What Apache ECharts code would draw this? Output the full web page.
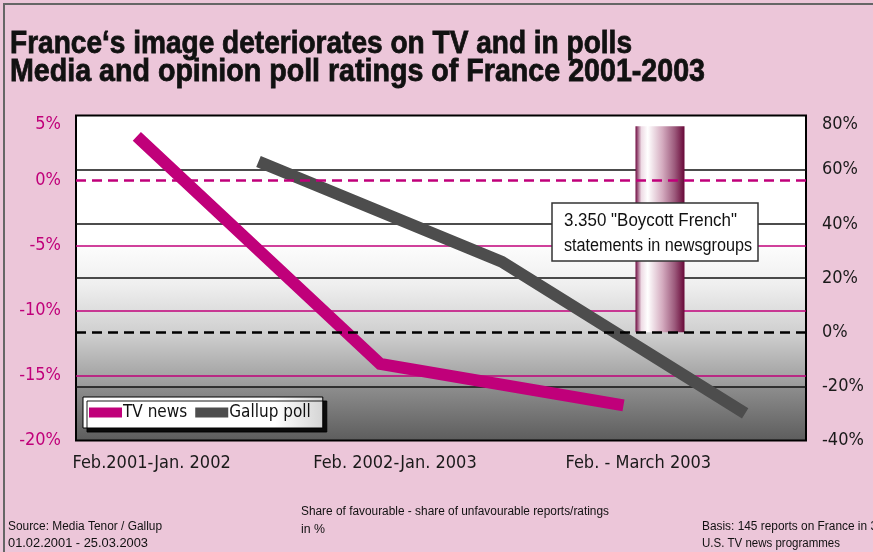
<!DOCTYPE html>
<html>
<head>
<meta charset="utf-8">
<script src="https://cdn.jsdelivr.net/npm/echarts@6/dist/echarts.min.js"></script>
<style>
  html, body { margin: 0; padding: 0; background: #ecc6d9; }
  #chart { width: 873px; height: 552px; }
</style>
</head>
<body>
<div id="chart"></div>
<script>
const periods = ['Feb.2001-Jan. 2002', 'Feb. 2002-Jan. 2003', 'Feb. - March 2003'];
const tvNews = [3.4, -14.1, -17.3];      // left axis, %
const gallupPoll = [63, 26, -30];        // right axis, %
const boycott = [76];                    // decorative column, right axis
const leftTicks = [-20, -15, -10, -5, 0, 5];
const rightTicks = [-40, -20, 0, 20, 40, 60, 80];

const font = "'Liberation Sans Narrow', 'DejaVu Sans Condensed', sans-serif";
const magenta = '#c0007a';
const darkGray = '#4d4d4d';

// the original uses a condensed face, so squeeze Liberation Sans to the widths seen
const measureCtx = document.createElement('canvas').getContext('2d');
function squeezed(text, cssFont, x, y, width, z, stroke) {
    measureCtx.font = cssFont;
    const w = measureCtx.measureText(text).width;
    const style = { text: text, font: cssFont, fill: '#111', align: 'left', verticalAlign: 'middle' };
    if (stroke) {
        style.stroke = '#111';
        style.lineWidth = stroke;
    }
    return {
        type: 'text', x: x, y: y, z: z || 10,
        scaleX: width / w,
        silent: true,
        style: style
    };
}

const chartDom = document.getElementById('chart');
const myChart = echarts.init(chartDom);

// TV points sit in the left half of each period, Gallup in the right half
const tvData = tvNews.map((v, i) => [i + 0.25, v]);
const gallupData = gallupPoll.map((v, i) => [i + 0.75, v]);
const boycottData = boycott.map(v => [2.4, v]);

const titleFont = "bold 32px 'Liberation Sans', sans-serif";
const noteFont = "18px 'Liberation Sans', sans-serif";
const smallFont = "12.5px 'Liberation Sans', sans-serif";

const option = {
    backgroundColor: '#ecc6d9',
    animation: false,
    textStyle: { fontFamily: font },
    grid: {
        left: 76, right: 67, top: 115.5, bottom: 111.5,
        show: true,
        borderColor: '#000',
        borderWidth: 2,
        backgroundColor: new echarts.graphic.LinearGradient(0, 0, 0, 1, [
            { offset: 0, color: '#ffffff' },
            { offset: 0.38, color: '#ffffff' },
            { offset: 0.52, color: '#efefef' },
            { offset: 0.67, color: '#cfcfcf' },
            { offset: 0.831, color: '#9a9a9a' },
            { offset: 0.832, color: '#8e8e8e' },
            { offset: 1, color: '#5c5c5c' }
        ])
    },
    legend: {
        data: ['TV news', 'Gallup poll'],
        left: 83, top: 397,
        padding: [7, 12, 7, 6],
        itemGap: 8,
        itemWidth: 33,
        itemHeight: 10,
        icon: 'rect',
        borderColor: '#000',
        borderWidth: 1,
        backgroundColor: new echarts.graphic.LinearGradient(0, 0, 1, 0, [
            { offset: 0, color: '#ffffff' },
            { offset: 0.8, color: '#ffffff' },
            { offset: 1, color: '#d4d4d4' }
        ]),
        shadowColor: 'rgba(0,0,0,0.9)',
        shadowOffsetX: 4,
        shadowOffsetY: 4,
        shadowBlur: 0,
        textStyle: { fontFamily: font, fontSize: 17, color: '#111', padding: [0, 0, 0, -4] }
    },
    xAxis: [
        {
            type: 'category',
            data: periods,
            boundaryGap: true,
            axisLine: { show: false },
            axisTick: { show: false },
            splitLine: { show: false },
            axisLabel: {
                fontFamily: font, fontSize: 18, color: '#1a1a1a',
                margin: 14, padding: [0, 92, 0, 0], interval: 0
            }
        },
        {
            type: 'value',
            min: 0, max: 3,
            show: false,
            splitLine: { show: false }
        }
    ],
    yAxis: [
        {
            type: 'value',
            position: 'left',
            min: leftTicks[0], max: leftTicks[leftTicks.length - 1], interval: 5,
            axisLine: { show: false },
            axisTick: { show: false },
            axisLabel: {
                formatter: '{value}%', fontFamily: font, fontSize: 18, color: magenta,
                margin: 15, verticalAlignMaxLabel: 'top'
            },
            splitLine: {
                show: true,
                lineStyle: { width: 1.5, color: ['transparent', magenta, magenta, magenta, 'transparent', 'transparent'] }
            }
        },
        {
            type: 'value',
            position: 'right',
            min: rightTicks[0], max: rightTicks[rightTicks.length - 1], interval: 20,
            axisLine: { show: false },
            axisTick: { show: false },
            axisLabel: {
                formatter: '{value}%', fontFamily: font, fontSize: 18, color: '#1a1a1a',
                margin: 16, verticalAlignMaxLabel: 'top'
            },
            splitLine: {
                show: true,
                lineStyle: { width: 1.5, color: ['transparent', '#111', 'transparent', '#111', '#111', '#111', 'transparent'] }
            }
        }
    ],
    series: [
        {
            name: 'TV news',
            type: 'line',
            xAxisIndex: 1, yAxisIndex: 0,
            data: tvData,
            symbol: 'none',
            z: 2,
            color: magenta,
            lineStyle: { width: 12, color: magenta, cap: 'butt', join: 'miter' },
            markLine: {
                silent: true,
                symbol: 'none',
                label: { show: false },
                lineStyle: { color: magenta, width: 2.5, type: [10, 6] },
                data: [{ yAxis: 0 }]
            }
        },
        {
            name: 'Gallup poll',
            type: 'line',
            xAxisIndex: 1, yAxisIndex: 1,
            data: gallupData,
            symbol: 'none',
            z: 2,
            color: darkGray,
            lineStyle: { width: 12, color: darkGray, cap: 'butt', join: 'miter' },
            markLine: {
                silent: true,
                symbol: 'none',
                label: { show: false },
                lineStyle: { color: '#000', width: 2.5, type: [10, 6] },
                data: [{ yAxis: 0 }]
            }
        },
        {
            name: 'Boycott',
            type: 'bar',
            xAxisIndex: 1, yAxisIndex: 1,
            data: boycottData,
            barWidth: 49,
            z: 3,
            itemStyle: {
                color: new echarts.graphic.LinearGradient(0, 0, 1, 0, [
                    { offset: 0, color: '#6e0a40' },
                    { offset: 0.12, color: '#eedbe5' },
                    { offset: 0.25, color: '#ffffff' },
                    { offset: 0.55, color: '#d4abbf' },
                    { offset: 0.8, color: '#9c5a7c' },
                    { offset: 1, color: '#680838' }
                ])
            }
        }
    ],
    graphic: [
        {
            type: 'rect', z: 0, silent: true,
            shape: { x: 4, y: 4, width: 900, height: 600 },
            style: { fill: 'none', stroke: '#666', lineWidth: 2 }
        },
        squeezed('France‘s image deteriorates on TV and in polls', titleFont, 10, 44, 622, 10, 0.8),
        squeezed('Media and opinion poll ratings of France 2001-2003', titleFont, 10, 72, 695, 10, 0.8),
        {
            type: 'rect', z: 100, silent: true,
            shape: { x: 552, y: 203, width: 206, height: 58 },
            style: { fill: '#fff', stroke: '#333', lineWidth: 1.5 }
        },
        squeezed('3.350 "Boycott French"', noteFont, 564, 221, 173, 101),
        squeezed('statements in newsgroups', noteFont, 564, 246, 188, 101),
        squeezed('Source: Media Tenor / Gallup', smallFont, 8, 527, 154),
        squeezed('01.02.2001 - 25.03.2003', smallFont, 8, 544, 140),
        squeezed('Share of favourable - share of unfavourable reports/ratings', smallFont, 301, 512, 308),
        squeezed('in %', smallFont, 301, 530, 24),
        squeezed('Basis: 145 reports on France in 3', smallFont, 702, 527, 175),
        squeezed('U.S. TV news programmes', smallFont, 702, 544, 138)
    ]
};

myChart.setOption(option);
</script>
</body>
</html>
